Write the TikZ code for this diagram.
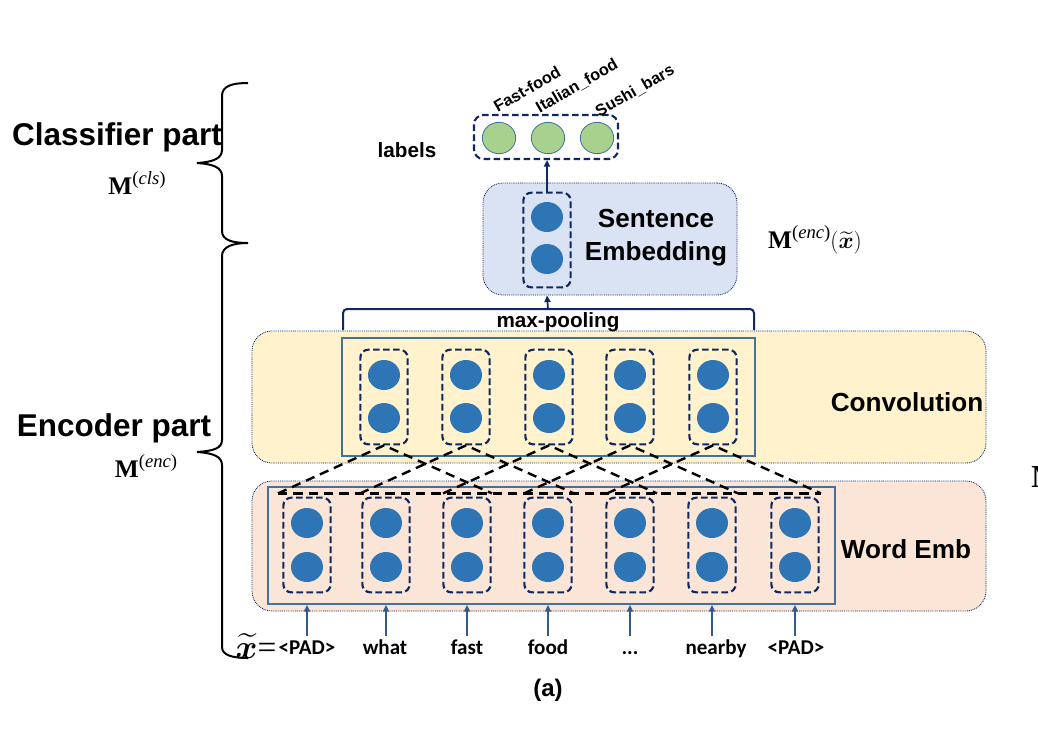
\documentclass[tikz,border=0pt]{standalone}
\usepackage{fontspec}
\setmainfont{Liberation Serif}
\setsansfont{Liberation Sans}
\newfontfamily\calib{Carlito}
\usepackage{amsmath,bm}
\usetikzlibrary{arrows.meta,calc,fit,shapes.geometric}
\definecolor{cblue}{RGB}{46,117,182}
\definecolor{navy}{RGB}{16,40,96}
\definecolor{steel}{RGB}{65,113,156}
\definecolor{arrc}{RGB}{50,90,140}
\definecolor{yell}{RGB}{255,242,204}
\definecolor{peach}{RGB}{251,229,214}
\definecolor{lblue}{RGB}{218,227,243}
\definecolor{lgreen}{RGB}{169,209,142}
\tikzset{
  neuron/.style={ellipse,fill=cblue,draw=none,minimum width=24pt,minimum height=22.5pt,inner sep=0pt},
  gneuron/.style={ellipse,fill=lgreen,draw=steel,line width=0.6pt,minimum width=25pt,minimum height=23.5pt,inner sep=0pt},
  colbox/.style={draw=navy,line width=1.6pt,dash pattern=on 5pt off 2.5pt,rounded corners=6pt,minimum width=35.5pt,minimum height=71pt,inner sep=0pt},
  outerbox/.style={draw=navy,line width=0.6pt,dash pattern=on 0.7pt off 0.7pt,rounded corners=15pt,inner sep=0pt},
  innerbox/.style={draw=steel,line width=1.5pt,inner sep=0pt},
  tri/.style={draw=black,line width=1.8pt,dash pattern=on 7pt off 4.5pt},
  inarrow/.style={draw=arrc,line width=1.1pt,-{Triangle[length=5pt,width=4.5pt]}},
  navyarrow/.style={draw=navy,line width=1.3pt,-{Triangle[length=5pt,width=4.5pt]}},
  bigsans/.style={font=\sffamily\bfseries\fontsize{19.6}{24.75}\selectfont,align=center,inner sep=0pt},
  partlab/.style={font=\sffamily\bfseries\fontsize{23.6}{28}\selectfont,inner sep=0pt},
  midsans/.style={font=\sffamily\bfseries\fontsize{15.5}{18}\selectfont,inner sep=0pt},
  catlab/.style={font=\sffamily\bfseries\fontsize{12.2}{14}\selectfont,inner sep=0pt,rotate=30},
  wordlab/.style={font=\calib\bfseries\fontsize{15.8}{18}\selectfont,inner sep=0pt,anchor=base},
  mlab/.style={font=\fontsize{19}{22}\selectfont,inner sep=0pt},
  bracel/.style={draw=black,line width=1.5pt}
}
\newcommand{\msup}[1]{\textbf{M}\raisebox{0.38em}{\fontsize{14}{14}\selectfont(\textit{#1})}}
\begin{document}
\begin{tikzpicture}[x=0.75pt,y=-0.75pt]
\useasboundingbox (0,0) rectangle (1038,747);

% ---------- outer layer boxes
\node[outerbox,fill=peach,fit={(252,481)(986,611)}] (webox) {};
\node[outerbox,fill=yell,fit={(252,331)(986,463)}] (convbox) {};
\node[outerbox,fill=lblue,fit={(483,183)(737,295)}] (sebox) {};

% ---------- inner rectangles
\node[innerbox,fit={(268,487)(835,604)}] (werect) {};
\node[innerbox,fit={(342,338)(755,456)}] (convrect) {};

% ---------- word embedding columns
\foreach \i/\x in {1/307,2/386,3/467,4/548,5/630,6/712,7/795}{
  \node[colbox] (w\i) at (\x,545) {};
  \node[neuron] (w\i a) at (\x,523) {};
  \node[neuron] (w\i b) at (\x,567) {};
}
% ---------- convolution columns
\foreach \i/\x in {1/384,2/466,3/549,4/630,5/713}{
  \node[colbox] (c\i) at (\x,397) {};
  \node[neuron] (c\i a) at (\x,375) {};
  \node[neuron] (c\i b) at (\x,418) {};
  \coordinate (cl\i) at ($(c\i.south)+(-106,48)$);
  \coordinate (cr\i) at ($(c\i.south)+(108,48)$);
  \draw[tri] (cl\i) -- (c\i.south) -- (cr\i);
}
\draw[tri] (cl1) -- (cr5);

% ---------- input words
\foreach \i/\x/\t in {1/307/{<PAD>},2/385/what,3/467/fast,4/548/food,5/630/{...},6/716/nearby,7/796/{<PAD>}}{
  \node[wordlab] (t\i) at (\x,654) {\t};
}
\foreach \i in {1,...,7}{
  \coordinate (ts\i) at ($(w\i |- t1.north)+(0,-4)$);
  \draw[inarrow] (ts\i) -- (w\i |- werect.south);
}
\node[font=\fontsize{25}{27}\selectfont,inner sep=0pt] (xt) at (256,646) {$\boldsymbol{\widetilde{x}}$=};

% ---------- max pooling
\coordinate (mpl) at (343,330);
\coordinate (mpr) at (754,330);
\coordinate (mp) at (548,309);
\draw[draw=navy,line width=1.5pt,rounded corners=3pt] (mpl) -- (mpl |- mp) -- (mpr |- mp) -- (mpr);
\node[midsans] (mptext) at (558,322) {max-pooling};

% ---------- sentence embedding
\node[colbox] (s1) at (547,240) {};
\node[neuron] (s1a) at (547,217) {};
\node[neuron] (s1b) at (547,259) {};
\node[bigsans] (setext) at (656,238) {Sentence\\Embedding};
\draw[navyarrow] (mp) -- (s1 |- sebox.south);

% ---------- labels
\node[colbox,minimum width=108pt,minimum height=33pt,rounded corners=7pt] (labbox) at (546,137) {};
\node[gneuron] (g1) at (499,138) {};
\node[gneuron] (g2) at (548,138) {};
\node[gneuron] (g3) at (597,138) {};
\draw[navyarrow] (s1.north) -- (s1 |- labbox.south);
\node[catlab] (l1) at (527,89) {Fast-food};
\node[catlab] (l2) at (577,86) {Italian\_food};
\node[catlab] (l3) at (635,91) {Sushi\_bars};
\node[midsans] (labtext) at (407,150) {labels};

% ---------- layer names
\node[bigsans] (convtext) at (907,402) {Convolution};
\node[bigsans] (wetext) at (906,549) {Word Emb};
\node[mlab] (menc2) at (815,240) {\msup{enc}$(\boldsymbol{\widetilde{x}})$};

% ---------- braces
\draw[bracel] (248,83) .. controls (232,83) and (222,86) .. (222,96) -- (222,150)
  .. controls (222,158) and (214,162) .. (197,163) .. controls (214,164) and (222,168) .. (222,176)
  -- (222,231) .. controls (222,240) and (232,243) .. (248,243);
\draw[bracel] (248,243) .. controls (232,243) and (222,247) .. (222,256) -- (222,440)
  .. controls (222,448) and (214,451) .. (197,452) .. controls (214,453) and (222,457) .. (222,465)
  -- (222,647) .. controls (222,655) and (232,658) .. (248,658);
\node[partlab] (clstext) at (117,137) {Classifier part};
\node[mlab] (mcls) at (137,183) {\msup{cls}};
\node[partlab] (enctext) at (114,428) {Encoder part};
\node[mlab] (menc) at (146,466) {\msup{enc}};

% ---------- caption and clipped glyph
\node[font=\sffamily\bfseries\fontsize{18}{20}\selectfont,inner sep=0pt] (cap) at (548,690) {(a)};
\node[font=\fontsize{24}{26}\selectfont,inner sep=0pt,anchor=west] (stray) at (1031,477) {\textbf{M}};
\end{tikzpicture}
\end{document}
